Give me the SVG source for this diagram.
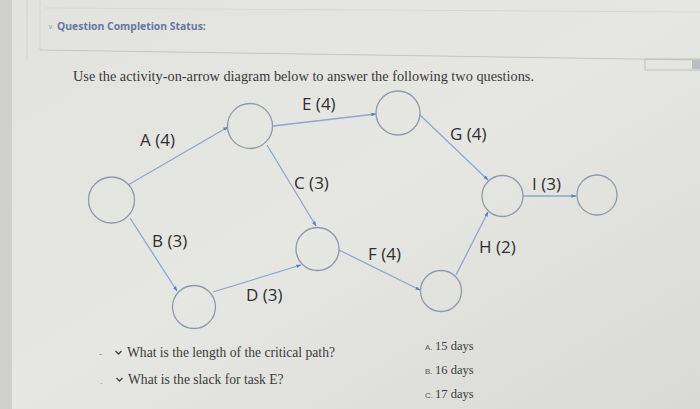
<svg xmlns="http://www.w3.org/2000/svg" width="700" height="409" viewBox="0 0 700 409">
<defs>
<linearGradient id="bg" x1="0" y1="0" x2="1" y2="1">
<stop offset="0" stop-color="#e2e3de"/>
<stop offset="0.5" stop-color="#e6e7e2"/>
<stop offset="1" stop-color="#d9dad5"/>
</linearGradient>
<marker id="ah" viewBox="0 0 10 10" refX="9" refY="5" markerWidth="4" markerHeight="4" orient="auto">
<path d="M0,1.5 L10,5 L0,8.5 z" fill="#5b7fc9"/>
</marker>
<style>
.node{fill:none;stroke:#8d99ad;stroke-width:1.3}
.edge{stroke:#8ea6cf;stroke-width:1.3;fill:none;marker-end:url(#ah)}
.lbl{font-family:"Open Sans","Noto Sans",sans-serif;font-size:17px;fill:#2f2f31}
.q{font-family:"Liberation Serif",serif;font-size:13.6px;fill:#3a3a3c}
.ans{font-family:"Liberation Serif",serif;font-size:12.5px;fill:#3a3a3c}
.ansl{font-family:"Liberation Sans",sans-serif;font-size:8px;fill:#555}
.chev{fill:none;stroke:#444;stroke-width:1.4}
</style>
</defs>
<rect width="700" height="409" fill="url(#bg)"/>
<rect x="0" y="0" width="12" height="409" fill="#cfd0cc"/>
<line x1="27" y1="0" x2="27" y2="60" stroke="#d2d3cf" stroke-width="1"/>
<line x1="40" y1="0" x2="40" y2="50" stroke="#cfd0cc" stroke-width="1"/>
<line x1="40" y1="50" x2="700" y2="60" stroke="#c4c5c1" stroke-width="1"/>
<line x1="45" y1="8" x2="700" y2="12" stroke="#d8d9d5" stroke-width="1"/>
<rect x="645" y="59" width="55" height="11" fill="none" stroke="#c0c1bd" stroke-width="1"/>
<rect x="692" y="60" width="8" height="9" fill="#b9bdc4"/>

<text x="48" y="29" font-family="Liberation Sans,sans-serif" font-size="7" fill="#9aa3b5">&#8744;</text>
<text x="57" y="30" font-family="Open Sans,Noto Sans,sans-serif" font-size="10.4" font-weight="bold" fill="#6577a0">Question Completion Status:</text>

<text x="73" y="81" font-family="Liberation Serif,serif" font-size="14.3" fill="#38383a">Use the activity-on-arrow diagram below to answer the following two questions.</text>

<g id="connectors">
<line class="edge" x1="128" y1="185" x2="228" y2="127"/>
<line class="edge" x1="273" y1="126" x2="376" y2="114"/>
<line class="edge" x1="267" y1="145" x2="316" y2="226"/>
<line class="edge" x1="420" y1="115" x2="488" y2="180"/>
<line class="edge" x1="456" y1="275" x2="488" y2="212"/>
<line class="edge" x1="523" y1="196" x2="576" y2="196"/>
<line class="edge" x1="130" y1="218" x2="177" y2="291"/>
<line class="edge" x1="213" y1="292" x2="301" y2="265"/>
<line class="edge" x1="339" y1="250" x2="420" y2="290"/>
</g>

<g id="n1"><circle class="node" cx="111.5" cy="200" r="23"/></g>
<g id="n2"><circle class="node" cx="250" cy="126" r="22.5"/></g>
<g id="n3"><circle class="node" cx="398" cy="113" r="22"/></g>
<g id="n4"><circle class="node" cx="502.5" cy="196" r="20.5"/></g>
<g id="n5"><circle class="node" cx="597" cy="195" r="20"/></g>
<g id="n6"><circle class="node" cx="194" cy="307" r="21.5"/></g>
<g id="n7"><circle class="node" cx="317.5" cy="249" r="21.5"/></g>
<g id="n8"><circle class="node" cx="441" cy="291" r="20.5"/></g>

<g id="labels">
<text class="lbl" x="302" y="110">E (4)</text>
<text class="lbl" x="140" y="146">A (4)</text>
<text class="lbl" x="294" y="189">C (3)</text>
<text class="lbl" x="450" y="140">G (4)</text>
<text class="lbl" x="532" y="190">I (3)</text>
<text class="lbl" x="152" y="247">B (3)</text>
<text class="lbl" x="368" y="260">F (4)</text>
<text class="lbl" x="479" y="253">H (2)</text>
<text class="lbl" x="246" y="301">D (3)</text>
</g>

<text x="99" y="357" font-family="Liberation Sans,sans-serif" font-size="9" fill="#888">-</text>
<path class="chev" d="M115.5,351 L118.5,354 L121.5,351"/>
<text class="q" x="127" y="357">What is the length of the critical path?</text>
<text x="100" y="384" font-family="Liberation Sans,sans-serif" font-size="9" fill="#888">.</text>
<path class="chev" d="M116.5,378 L119.5,381 L122.5,378"/>
<text class="q" x="128" y="384">What is the slack for task E?</text>

<text class="ansl" x="425" y="350">A.</text>
<text class="ans" x="435" y="350">15 days</text>
<text class="ansl" x="425" y="374">B.</text>
<text class="ans" x="435" y="374">16 days</text>
<text class="ansl" x="425" y="398">C.</text>
<text class="ans" x="435" y="398">17 days</text>
</svg>
